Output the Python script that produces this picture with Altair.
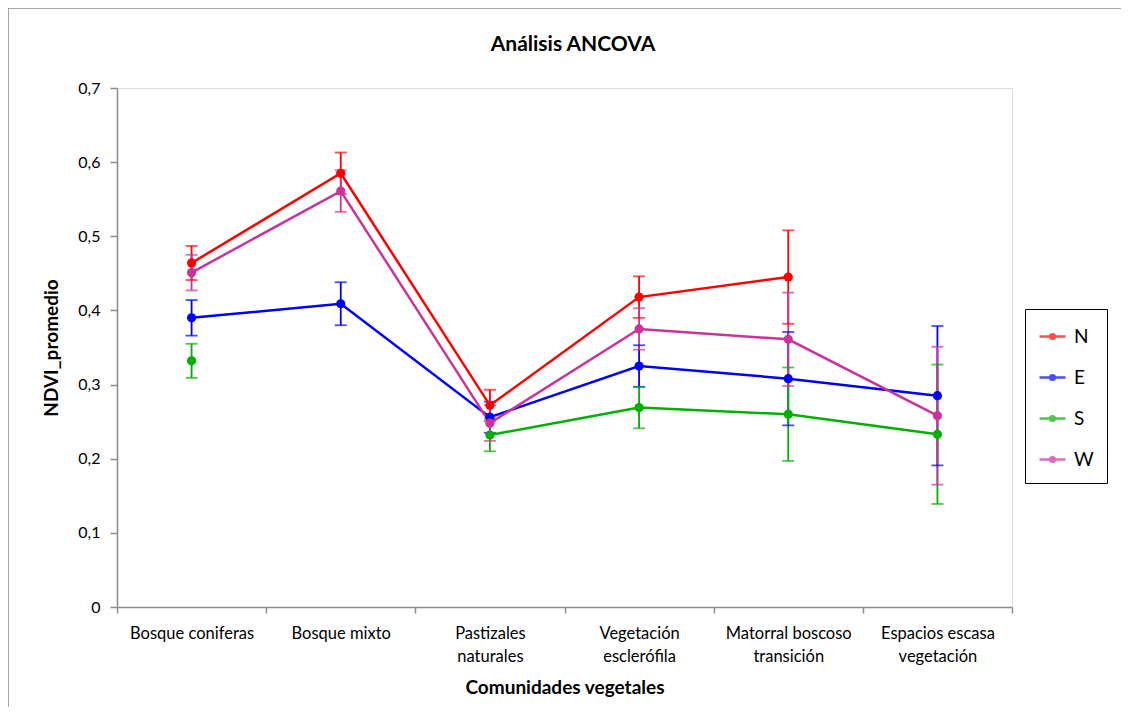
import altair as alt
import pandas as pd

# ---- data ----
categories = [
    "Bosque coniferas",
    "Bosque mixto",
    "Pastizales naturales",
    "Vegetación esclerófila",
    "Matorral boscoso transición",
    "Espacios escasa vegetación",
]
label_lines = {
    "Pastizales naturales": ["Pastizales", "naturales"],
    "Vegetación esclerófila": ["Vegetación", "esclerófila"],
    "Matorral boscoso transición": ["Matorral boscoso", "transición"],
    "Espacios escasa vegetación": ["Espacios escasa", "vegetación"],
}
series = ["N", "E", "S", "W"]
colors = ["#FF0000", "#0000FF", "#00B000", "#CC3399"]

N_mean = [0.464, 0.585, 0.272, 0.418, 0.445, None]
N_err = [0.023, 0.028, 0.021, 0.028, 0.063, None]
E_mean = [0.390, 0.409, 0.256, 0.325, 0.308, 0.285]
E_err = [0.024, 0.029, 0.021, 0.028, 0.063, 0.094]
S_mean = [0.332, None, 0.232, 0.269, 0.260, 0.233]
S_err = [0.023, None, 0.022, 0.028, 0.063, 0.094]
W_mean = [0.451, 0.561, 0.248, 0.375, 0.361, 0.258]
W_err = [0.024, 0.028, 0.024, 0.028, 0.063, 0.093]

y_ticks = [0, 0.1, 0.2, 0.3, 0.4, 0.5, 0.6, 0.7]
chart_title = "Análisis ANCOVA"

rows = []
for s, means, errs in zip(series, [N_mean, E_mean, S_mean, W_mean], [N_err, E_err, S_err, W_err]):
    for c, m, e in zip(categories, means, errs):
        rows.append({
            "comunidad": c,
            "serie": s,
            "orden": series.index(s),
            "ndvi": m,
            "lo": (m - e) if m is not None else None,
            "hi": (m + e) if m is not None else None,
        })
df = pd.DataFrame(rows)

FONT = "Lato"
GRAY = "#8c8c8c"

# multi-line x labels
expr = "datum.label"
for k, v in label_lines.items():
    expr = f"datum.label == '{k}' ? ['{v[0]}', '{v[1]}'] : ({expr})"

x_enc = alt.X(
    "comunidad:N",
    sort=categories,
    scale=alt.Scale(type="band", paddingInner=0, paddingOuter=0),
    axis=alt.Axis(
        title="Comunidades vegetales",
        tickBand="extent",
        labelAngle=0,
        labelExpr=expr,
        labelFont=FONT,
        labelFontSize=16.5,
        labelColor="black",
        labelLineHeight=23,
        labelPadding=12,
        tickSize=6,
        tickColor=GRAY,
        tickWidth=1.5,
        domainColor=GRAY,
        domainWidth=1.5,
        titleFont=FONT,
        titleFontSize=19,
        titleFontWeight="bold",
        titleColor="black",
        titlePadding=14,
    ),
)
y_scale = alt.Scale(domain=[0, 0.7])
y_axis = alt.Axis(
    title="NDVI_promedio",
    values=y_ticks,
    labelExpr="datum.value == 0 ? '0' : replace(format(datum.value, '.1f'), '.', ',')",
    grid=False,
    labelFont=FONT,
    labelFontSize=16,
    labelColor="black",
    labelPadding=10,
    tickSize=7,
    tickColor=GRAY,
    tickWidth=1.5,
    domainColor=GRAY,
    domainWidth=1.5,
    titleFont=FONT,
    titleFontSize=19,
    titleFontWeight="bold",
    titleColor="black",
    titlePadding=16,
)

legend = alt.Legend(
    title=None,
    orient="none",
    legendX=908,
    legendY=221,
    strokeColor="black",
    padding=13,
    fillColor="white",
    symbolType="M-1,0L1,0M0.18,0A0.18,0.18,0,1,1,-0.18,0A0.18,0.18,0,1,1,0.18,0Z",
    symbolSize=676,
    symbolStrokeWidth=2.5,
    labelFont=FONT,
    labelFontSize=19,
    labelColor="black",
    labelOffset=7,
    rowPadding=16,
)
color_enc = alt.Color("serie:N", scale=alt.Scale(domain=series, range=colors), legend=legend)

base = alt.Chart(df).encode(x=x_enc, color=color_enc, order=alt.Order("orden:Q"))

rules = base.mark_rule(strokeWidth=1.8).encode(
    y=alt.Y("lo:Q", scale=y_scale, axis=y_axis), y2="hi:Q"
)
tick_lo = base.mark_tick(size=12, thickness=1.8, orient="horizontal").encode(
    y=alt.Y("lo:Q", scale=y_scale, axis=y_axis)
)
tick_hi = base.mark_tick(size=12, thickness=1.8, orient="horizontal").encode(
    y=alt.Y("hi:Q", scale=y_scale, axis=y_axis)
)
lines = base.mark_line(strokeWidth=2.5).encode(
    y=alt.Y("ndvi:Q", scale=y_scale, axis=y_axis)
)
points = base.mark_point(filled=True, size=85, opacity=1).encode(
    y=alt.Y("ndvi:Q", scale=y_scale, axis=y_axis)
)

one_row = alt.Data(values=[{"t": chart_title}])
frame = alt.Chart(one_row).mark_rect(
    filled=False, stroke=GRAY, strokeWidth=1.5
).encode(
    x=alt.value(-109), x2=alt.value(1300), y=alt.value(-80), y2=alt.value(900)
)
title_txt = alt.Chart(one_row).mark_text(
    font=FONT, fontSize=21, fontWeight="bold", color="black",
    align="center", baseline="middle",
).encode(text="t:N", x=alt.value(456), y=alt.value(-43))

chart = alt.layer(frame, title_txt, rules, tick_lo, tick_hi, lines, points).properties(
    width=895,
    height=519,
    autosize=alt.AutoSizeParams(type="none"),
    padding={"left": 109, "top": 80, "right": 109, "bottom": 100},
).configure_view(stroke=GRAY, strokeWidth=1.5).configure(background="white")

chart.save("out.html", embed_options={"renderer": "svg", "actions": False})
